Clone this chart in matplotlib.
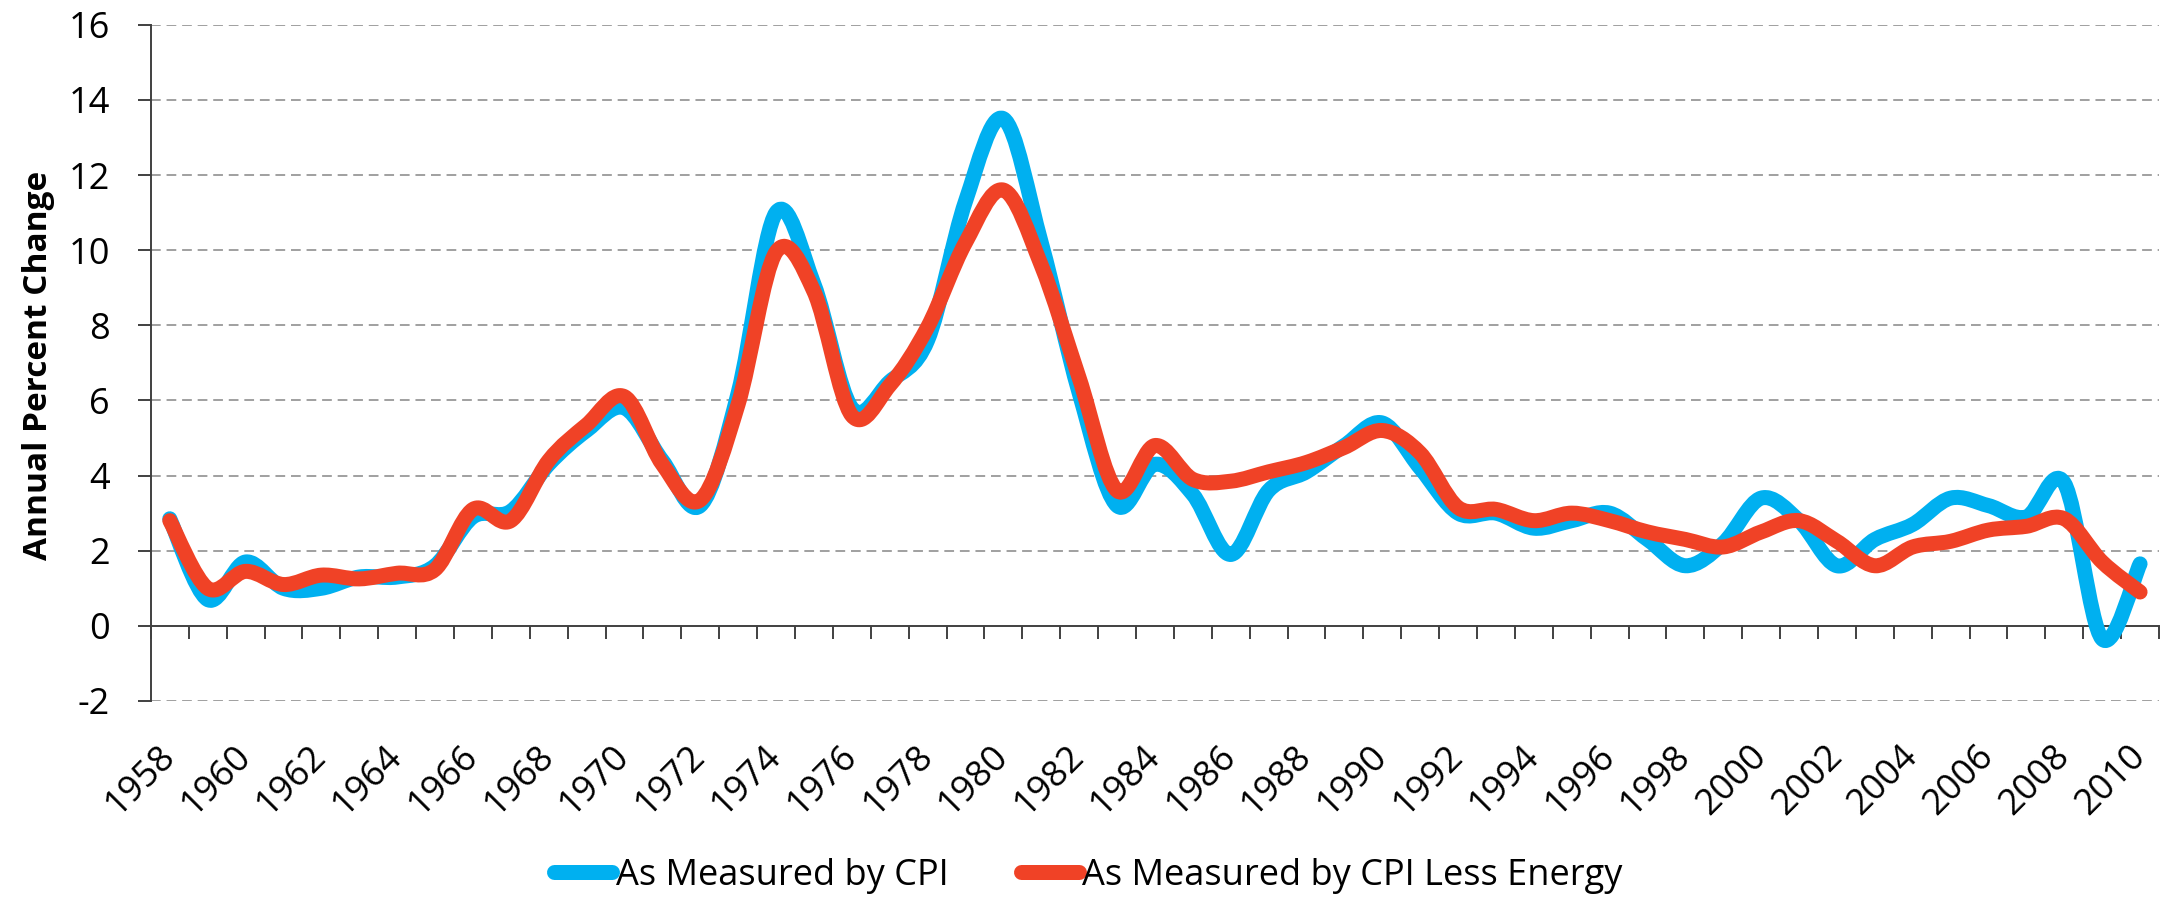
import numpy as np
import matplotlib
matplotlib.use("Agg")
import matplotlib.pyplot as plt
from matplotlib.path import Path
from matplotlib.patches import PathPatch


years = list(range(1958, 2011))

cpi = [2.85, 0.7, 1.7, 1.0, 1.0, 1.3, 1.3, 1.6, 2.9, 3.05,
       4.3, 5.2, 5.8, 4.4, 3.2, 6.2, 11.0, 9.1, 5.8, 6.5,
       7.6, 11.3, 13.5, 10.2, 6.2, 3.2, 4.3, 3.5, 1.9, 3.6,
       4.1, 4.8, 5.4, 4.2, 3.0, 3.0, 2.6, 2.8, 3.0, 2.3,
       1.6, 2.2, 3.4, 2.8, 1.6, 2.3, 2.7, 3.4, 3.2, 2.9,
       3.8, -0.35, 1.65]

cpi_less_energy = [2.8, 1.0, 1.45, 1.1, 1.35, 1.25, 1.4, 1.5, 3.1, 2.8,
                   4.4, 5.35, 6.1, 4.3, 3.35, 5.9, 9.95, 8.9, 5.6, 6.4,
                   7.95, 10.2, 11.6, 9.6, 6.6, 3.6, 4.8, 3.9, 3.85, 4.1,
                   4.35, 4.75, 5.2, 4.6, 3.15, 3.1, 2.8, 3.0, 2.8, 2.5,
                   2.3, 2.1, 2.5, 2.8, 2.25, 1.6, 2.1, 2.25, 2.55, 2.65,
                   2.85, 1.7, 0.9]

y_ticks = [-2, 0, 2, 4, 6, 8, 10, 12, 14, 16]
y_tick_labels = ["-2", "0", "2", "4", "6", "8", "10", "12", "14", "16"]

series_labels = ["As Measured by CPI", "As Measured by CPI Less Energy"]
BLUE = "#00B0F0"
RED = "#F04226"


def smooth_path(xs, ys):
    # excel style smoothed line: bezier segments, control points from neighbours
    pts = np.column_stack([xs, ys]).astype(float)
    n = len(pts)
    verts = [pts[0]]
    codes = [Path.MOVETO]
    for i in range(n - 1):
        p0 = pts[i - 1] if i > 0 else pts[i]
        p1 = pts[i]
        p2 = pts[i + 1]
        p3 = pts[i + 2] if i + 2 < n else pts[i + 1]
        c1 = p1 + (p2 - p0) / 6.0
        c2 = p2 - (p3 - p1) / 6.0
        verts += [c1, c2, p2]
        codes += [Path.CURVE4] * 3
    return Path(verts, codes)


plt.rcParams["font.family"] = ["Open Sans", "DejaVu Sans"]

fig = plt.figure(figsize=(21.64, 8.98), dpi=100)
ax = fig.add_axes([0.0697, 0.2194, 0.9977 - 0.0697, 0.9724 - 0.2194])

x = np.arange(len(years))
lw = 10.8
for vals, col in [(cpi, BLUE), (cpi_less_energy, RED)]:
    patch = PathPatch(smooth_path(x, vals), fill=False, edgecolor=col,
                      lw=lw, capstyle="round", joinstyle="round", zorder=3)
    ax.add_patch(patch)

ax.set_xlim(-0.5, len(years) - 0.5)
ax.set_ylim(-2, 16)

# grid
ax.set_yticks(y_ticks, y_tick_labels)
for yv in y_ticks:
    if yv != 0:
        ax.axhline(yv, color="#A0A0A0", lw=1.4, ls=(0, (5, 3)), zorder=1)

for s in ["top", "right"]:
    ax.spines[s].set_visible(False)
ax.spines["left"].set_color("#404040")
ax.spines["left"].set_linewidth(1.4)
ax.spines["bottom"].set_position(("data", 0))
ax.spines["bottom"].set_color("#404040")
ax.spines["bottom"].set_linewidth(1.4)

ax.set_xticks(np.arange(len(years) + 1) - 0.5)
ax.tick_params(axis="x", which="major", length=9.5, width=1.4, color="#404040",
               labelbottom=False, direction="out")
ax.tick_params(axis="y", length=9.5, width=1.4, color="#404040",
               labelsize=26, pad=20)

sec = ax.secondary_xaxis(0.0)
sec.set_xticks(x[::2], [str(y) for y in years[::2]], rotation=45,
               ha="right", va="center", rotation_mode="anchor", fontsize=26)
sec.tick_params(length=0, pad=36)
sec.spines["bottom"].set_visible(False)

fig.text(39 / 2164, 1 - 365 / 898, "Annual Percent Change", rotation=90,
         ha="center", va="center", fontsize=24, fontweight="bold")

h1, = ax.plot([], [], color=BLUE, lw=lw, solid_capstyle="round")
h2, = ax.plot([], [], color=RED, lw=lw, solid_capstyle="round")
fig.legend([h1, h2], series_labels, loc="center", ncol=2, frameon=False,
           bbox_to_anchor=(0.503, 1 - 876 / 898), fontsize=26,
           handlelength=1.6, handletextpad=0.1, columnspacing=2.0)

fig.savefig("out.png", dpi=100)
